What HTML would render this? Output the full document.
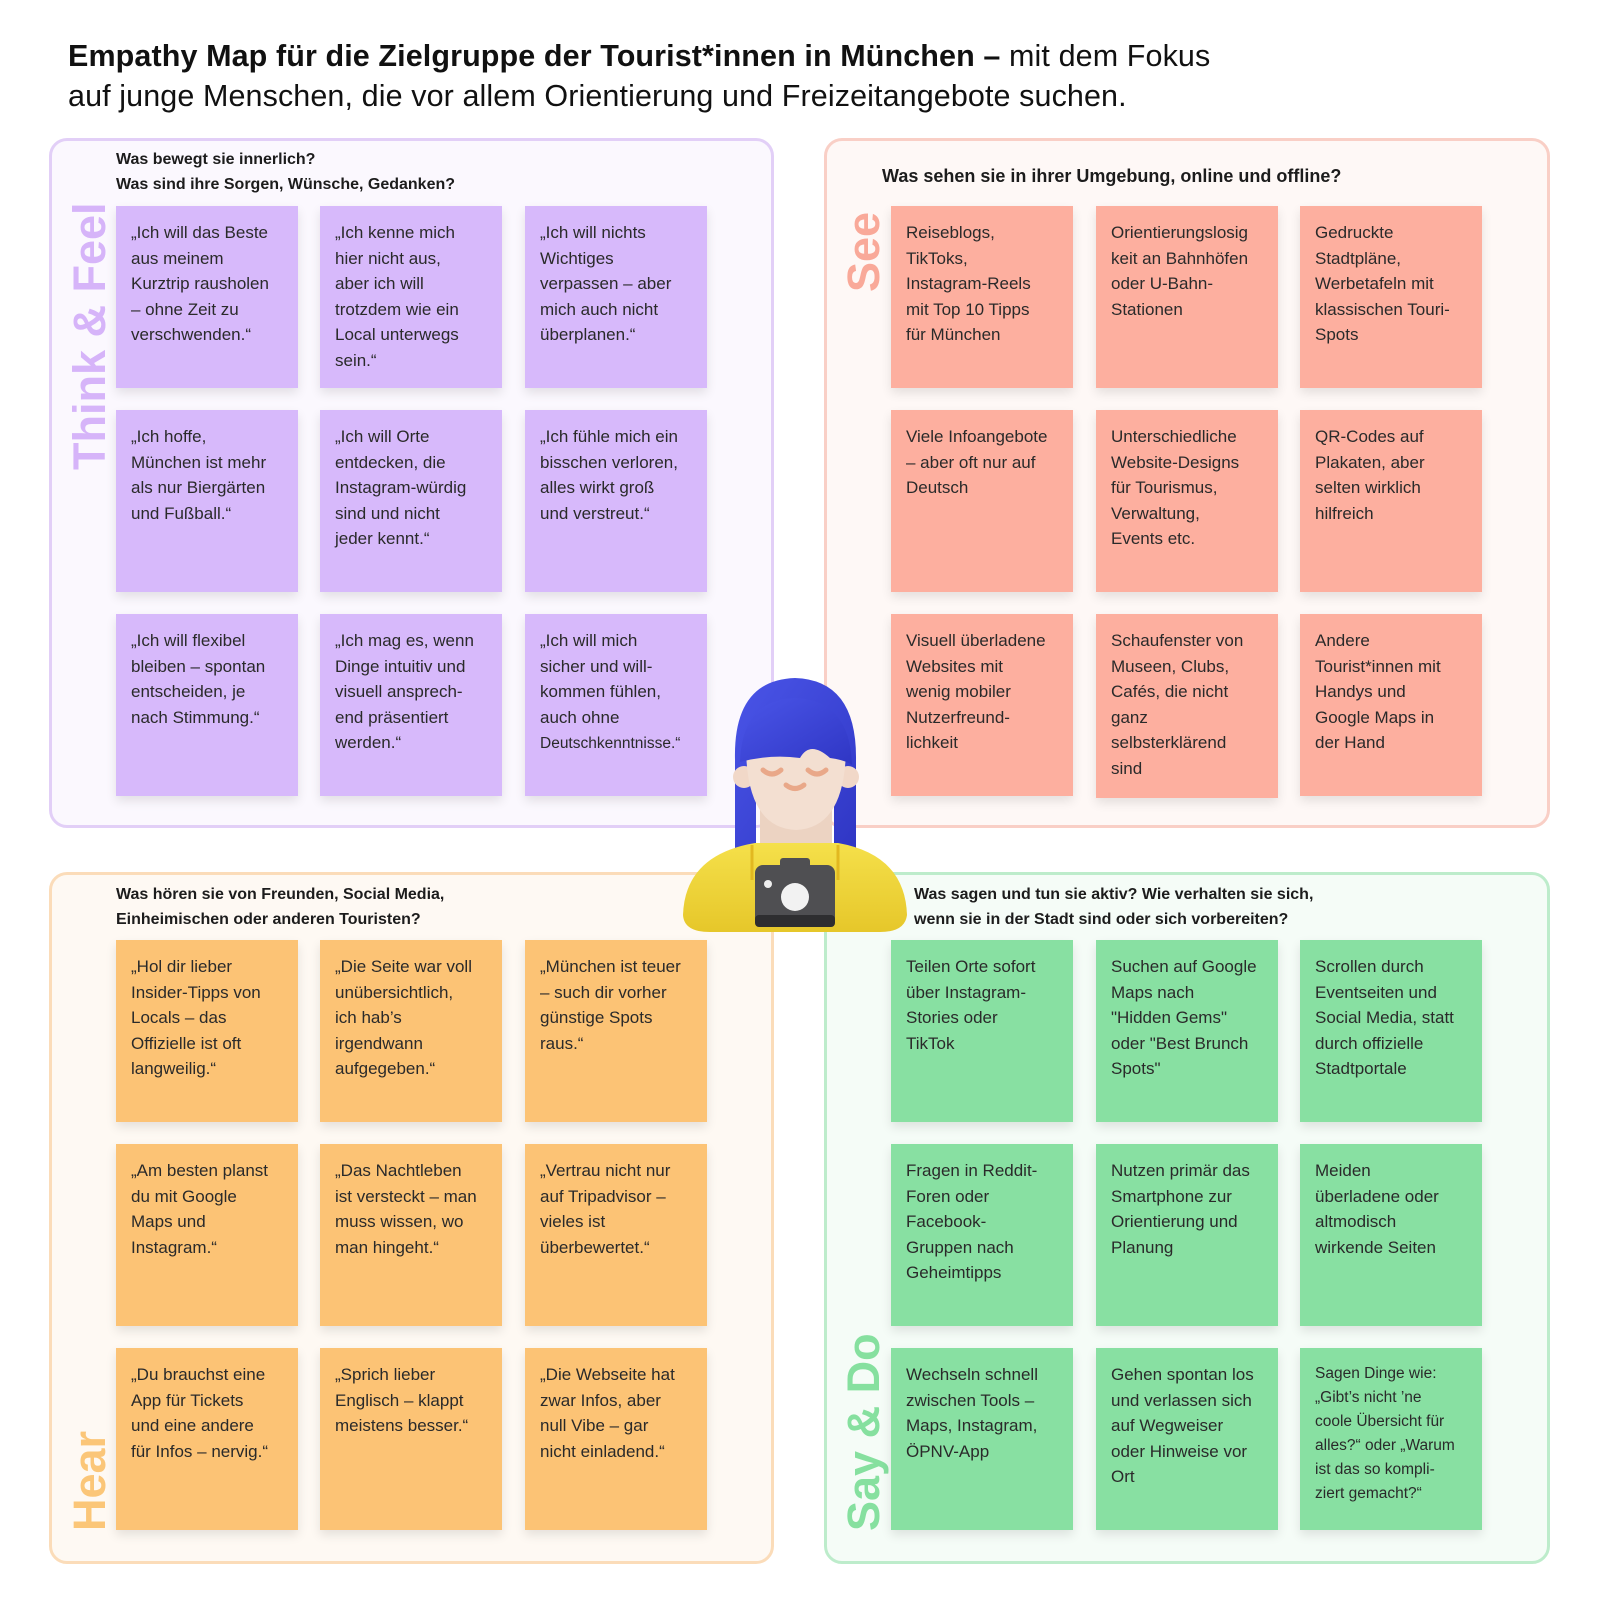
<!DOCTYPE html>
<html><head><meta charset="utf-8"><style>
*{margin:0;padding:0;box-sizing:border-box}
body{width:1600px;height:1600px;background:#fff;position:relative;font-family:"Liberation Sans",sans-serif;color:#1c1c1c;overflow:hidden}
.title{position:absolute;left:68px;top:36px;font-size:30.5px;line-height:40px;color:#111;letter-spacing:0.1px;white-space:nowrap}
.panel{position:absolute;border:3px solid;border-radius:18px}
.q{position:absolute;font-weight:bold;font-size:16px;line-height:25px;color:#1c1c1c}
.s{position:absolute;width:182px;height:182px;padding:14px 6px 0 15px;font-size:17px;line-height:25.6px;color:#2a2a2a;box-shadow:0 5px 10px rgba(0,0,0,0.10);white-space:nowrap}
.p{background:#d7b9fb}.r{background:#fdaf9f}.o{background:#fcc375}.g{background:#88e0a2}
.lbl{position:absolute;font-weight:bold;font-size:45px;transform-origin:0 0;transform:rotate(-90deg);white-space:nowrap;line-height:45px}
</style></head><body>
<div class="title"><b>Empathy Map für die Zielgruppe der Tourist*innen in München –</b> mit dem Fokus<br>auf junge Menschen, die vor allem Orientierung und Freizeitangebote suchen.</div>

<div class="panel" style="left:49px;top:138px;width:725px;height:690px;border-color:#e2cff7;background:#fbf8fe"></div>
<div class="panel" style="left:824px;top:138px;width:726px;height:690px;border-color:#f9cfc6;background:#fef8f6"></div>
<div class="panel" style="left:49px;top:872px;width:725px;height:692px;border-color:#fbdcb9;background:#fef9f3"></div>
<div class="panel" style="left:824px;top:872px;width:726px;height:692px;border-color:#bdeccb;background:#f5fcf7"></div>

<div class="lbl" style="left:67px;top:470px;color:#d6b4f9">Think &amp; Feel</div>
<div class="lbl" style="left:841px;top:292px;color:#f9a999">See</div>
<div class="lbl" style="left:67px;top:1531px;color:#fbc678">Hear</div>
<div class="lbl" style="left:841px;top:1531px;color:#86e09f">Say &amp; Do</div>

<div class="q" style="left:116px;top:147px">Was bewegt sie innerlich?<br>Was sind ihre Sorgen, Wünsche, Gedanken?</div>
<div class="q" style="left:882px;top:164px;font-size:18px">Was sehen sie in ihrer Umgebung, online und offline?</div>
<div class="q" style="left:116px;top:882px">Was hören sie von Freunden, Social Media,<br>Einheimischen oder anderen Touristen?</div>
<div class="q" style="left:914px;top:882px">Was sagen und tun sie aktiv? Wie verhalten sie sich,<br>wenn sie in der Stadt sind oder sich vorbereiten?</div>

<div class="s p" style="left:116px;top:206px">„Ich will das Beste<br>aus meinem<br>Kurztrip rausholen<br>– ohne Zeit zu<br>verschwenden.“</div>
<div class="s p" style="left:320px;top:206px">„Ich kenne mich<br>hier nicht aus,<br>aber ich will<br>trotzdem wie ein<br>Local unterwegs<br>sein.“</div>
<div class="s p" style="left:525px;top:206px">„Ich will nichts<br>Wichtiges<br>verpassen – aber<br>mich auch nicht<br>überplanen.“</div>
<div class="s p" style="left:116px;top:410px">„Ich hoffe,<br>München ist mehr<br>als nur Biergärten<br>und Fußball.“</div>
<div class="s p" style="left:320px;top:410px">„Ich will Orte<br>entdecken, die<br>Instagram-würdig<br>sind und nicht<br>jeder kennt.“</div>
<div class="s p" style="left:525px;top:410px">„Ich fühle mich ein<br>bisschen verloren,<br>alles wirkt groß<br>und verstreut.“</div>
<div class="s p" style="left:116px;top:614px">„Ich will flexibel<br>bleiben – spontan<br>entscheiden, je<br>nach Stimmung.“</div>
<div class="s p" style="left:320px;top:614px">„Ich mag es, wenn<br>Dinge intuitiv und<br>visuell ansprech-<br>end präsentiert<br>werden.“</div>
<div class="s p" style="left:525px;top:614px">„Ich will mich<br>sicher und will-<br>kommen fühlen,<br>auch ohne<br><span style="font-size:15.5px">Deutschkenntnisse.“</span></div>

<div class="s r" style="left:891px;top:206px">Reiseblogs,<br>TikToks,<br>Instagram-Reels<br>mit Top 10 Tipps<br>für München</div>
<div class="s r" style="left:1096px;top:206px">Orientierungslosig<br>keit an Bahnhöfen<br>oder U-Bahn-<br>Stationen</div>
<div class="s r" style="left:1300px;top:206px">Gedruckte<br>Stadtpläne,<br>Werbetafeln mit<br>klassischen Touri-<br>Spots</div>
<div class="s r" style="left:891px;top:410px">Viele Infoangebote<br>– aber oft nur auf<br>Deutsch</div>
<div class="s r" style="left:1096px;top:410px">Unterschiedliche<br>Website-Designs<br>für Tourismus,<br>Verwaltung,<br>Events etc.</div>
<div class="s r" style="left:1300px;top:410px">QR-Codes auf<br>Plakaten, aber<br>selten wirklich<br>hilfreich</div>
<div class="s r" style="left:891px;top:614px">Visuell überladene<br>Websites mit<br>wenig mobiler<br>Nutzerfreund-<br>lichkeit</div>
<div class="s r" style="left:1096px;top:614px;height:184px">Schaufenster von<br>Museen, Clubs,<br>Cafés, die nicht<br>ganz<br>selbsterklärend<br>sind</div>
<div class="s r" style="left:1300px;top:614px">Andere<br>Tourist*innen mit<br>Handys und<br>Google Maps in<br>der Hand</div>

<div class="s o" style="left:116px;top:940px">„Hol dir lieber<br>Insider-Tipps von<br>Locals – das<br>Offizielle ist oft<br>langweilig.“</div>
<div class="s o" style="left:320px;top:940px">„Die Seite war voll<br>unübersichtlich,<br>ich hab’s<br>irgendwann<br>aufgegeben.“</div>
<div class="s o" style="left:525px;top:940px">„München ist teuer<br>– such dir vorher<br>günstige Spots<br>raus.“</div>
<div class="s o" style="left:116px;top:1144px">„Am besten planst<br>du mit Google<br>Maps und<br>Instagram.“</div>
<div class="s o" style="left:320px;top:1144px">„Das Nachtleben<br>ist versteckt – man<br>muss wissen, wo<br>man hingeht.“</div>
<div class="s o" style="left:525px;top:1144px">„Vertrau nicht nur<br>auf Tripadvisor –<br>vieles ist<br>überbewertet.“</div>
<div class="s o" style="left:116px;top:1348px">„Du brauchst eine<br>App für Tickets<br>und eine andere<br>für Infos – nervig.“</div>
<div class="s o" style="left:320px;top:1348px">„Sprich lieber<br>Englisch – klappt<br>meistens besser.“</div>
<div class="s o" style="left:525px;top:1348px">„Die Webseite hat<br>zwar Infos, aber<br>null Vibe – gar<br>nicht einladend.“</div>

<div class="s g" style="left:891px;top:940px">Teilen Orte sofort<br>über Instagram-<br>Stories oder<br>TikTok</div>
<div class="s g" style="left:1096px;top:940px">Suchen auf Google<br>Maps nach<br>"Hidden Gems"<br>oder "Best Brunch<br>Spots"</div>
<div class="s g" style="left:1300px;top:940px">Scrollen durch<br>Eventseiten und<br>Social Media, statt<br>durch offizielle<br>Stadtportale</div>
<div class="s g" style="left:891px;top:1144px">Fragen in Reddit-<br>Foren oder<br>Facebook-<br>Gruppen nach<br>Geheimtipps</div>
<div class="s g" style="left:1096px;top:1144px">Nutzen primär das<br>Smartphone zur<br>Orientierung und<br>Planung</div>
<div class="s g" style="left:1300px;top:1144px">Meiden<br>überladene oder<br>altmodisch<br>wirkende Seiten</div>
<div class="s g" style="left:891px;top:1348px">Wechseln schnell<br>zwischen Tools –<br>Maps, Instagram,<br>ÖPNV-App</div>
<div class="s g" style="left:1096px;top:1348px">Gehen spontan los<br>und verlassen sich<br>auf Wegweiser<br>oder Hinweise vor<br>Ort</div>
<div class="s g" style="left:1300px;top:1348px;font-size:15.5px;line-height:24px">Sagen Dinge wie:<br>„Gibt’s nicht ’ne<br>coole Übersicht für<br>alles?“ oder „Warum<br>ist das so kompli-<br>ziert gemacht?“</div>

<svg style="position:absolute;left:0;top:0" width="1600" height="1600" viewBox="0 0 1600 1600">
<defs>
<linearGradient id="hb" x1="0" y1="0" x2="1" y2="1"><stop offset="0" stop-color="#4a55e8"/><stop offset="1" stop-color="#2f36c4"/></linearGradient>
<linearGradient id="yb" x1="0" y1="0" x2="0" y2="1"><stop offset="0" stop-color="#f5e04a"/><stop offset="1" stop-color="#e6c72a"/></linearGradient>
</defs>
<path d="M735 760 Q733 680 795 678 Q857 680 856 760 L856 848 L834 852 L834 770 L756 770 L756 852 L735 848 Z" fill="url(#hb)"/>
<circle cx="744" cy="777" r="11" fill="#f1d8c8"/><circle cx="848" cy="777" r="11" fill="#f1d8c8"/>
<rect x="760" y="800" width="72" height="50" fill="#ecd3c2"/>
<path d="M746 745 Q746 828 796 830 Q846 828 846 745 Z" fill="#f3dfd1"/>
<path d="M740 762 Q742 700 795 698 Q850 700 852 765 Q845 760 830 758 Q810 740 800 758 Q770 754 740 762Z" fill="url(#hb)"/>
<path d="M763 770 Q772 778 781 770" stroke="#e9a889" stroke-width="5" fill="none" stroke-linecap="round"/>
<path d="M808 770 Q817 778 826 770" stroke="#e9a889" stroke-width="5" fill="none" stroke-linecap="round"/>
<path d="M786 785 Q795 792 804 785" stroke="#e9a889" stroke-width="5" fill="none" stroke-linecap="round"/>
<path d="M683 915 Q685 855 755 843 L838 843 Q905 855 907 915 Q905 932 880 932 L710 932 Q684 932 683 915Z" fill="url(#yb)"/>
<path d="M752 845 L752 880 M838 845 L838 880" stroke="#e2b820" stroke-width="3"/>
<rect x="755" y="865" width="80" height="62" rx="8" fill="#4f4f52"/>
<rect x="755" y="915" width="80" height="12" rx="4" fill="#2e2e30"/>
<rect x="780" y="858" width="30" height="10" rx="3" fill="#4f4f52"/>
<circle cx="795" cy="897" r="14" fill="#f2f2f2"/>
<circle cx="768" cy="884" r="4" fill="#eee"/>
</svg>
</body></html>
